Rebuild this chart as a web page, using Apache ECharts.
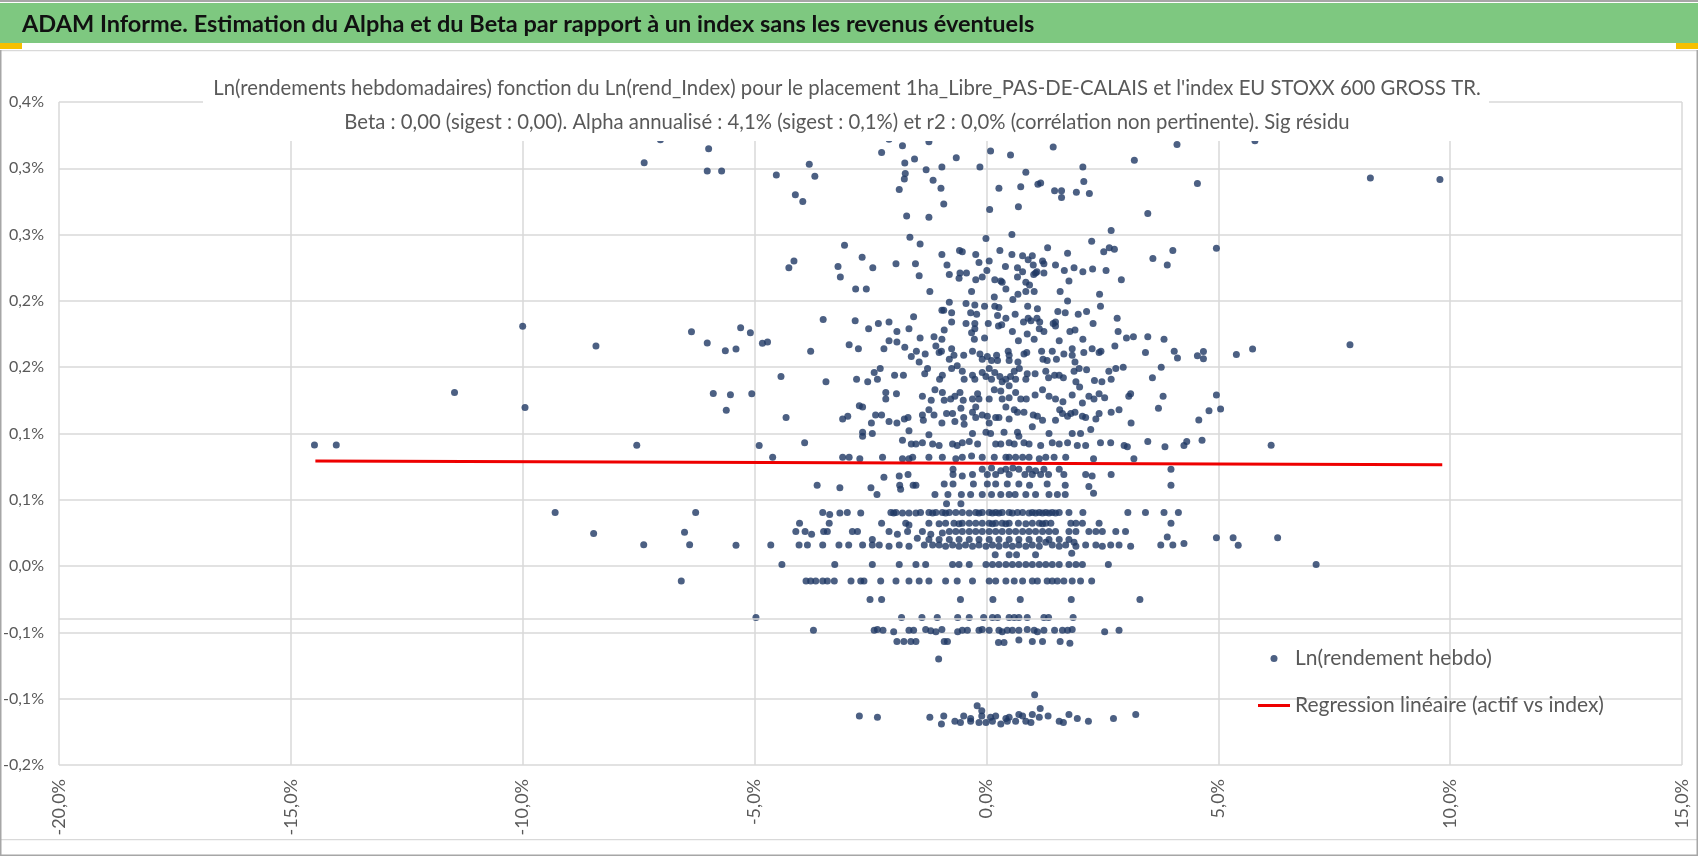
<!DOCTYPE html>
<html><head><meta charset="utf-8">
<script src="https://cdn.jsdelivr.net/npm/echarts@6/dist/echarts.min.js"></script>
<style>html,body{margin:0;padding:0;background:#fff}#c{width:1698px;height:856px}</style>
</head><body><div id="c"></div>
<script>
const headerText = 'ADAM Informe. Estimation du Alpha et du Beta par rapport à un index sans les revenus éventuels';
const titleLines = [
  "Ln(rendements hebdomadaires) fonction du Ln(rend_Index) pour le placement 1ha_Libre_PAS-DE-CALAIS et l'index EU STOXX 600 GROSS TR.",
  "Beta : 0,00 (sigest : 0,00). Alpha annualisé : 4,1% (sigest : 0,1%) et r2 : 0,0% (corrélation non pertinente). Sig résidu"
];
const seriesNames = ['Ln(rendement hebdo)', 'Regression linéaire (actif vs index)'];
const xScale = {min: -20, max: 15, interval: 5};
const yScale = {min: -0.15, max: 0.35, interval: 0.05};
const horizontalAxisCross = -0.0385;
const regressionLine = [[-14.47, 0.0792], [9.83, 0.0764]];

// index weekly log-return (%), asset weekly log-return (%)
const ptsLeft = [
  [-14.49,0.0913],[-14.02,0.0913],[-7.54,0.0912],
  [-7.03,0.3215],[-5.99,0.3147],[-7.38,0.3042],[-6.02,0.2979],[-5.71,0.2979],[-10.0,0.1808],[-8.42,0.1659],
  [-6.36,0.1767],[-6.02,0.1682],[-5.63,0.1624],[-5.40,0.1638],[-5.30,0.1797],[-11.47,0.1310],[-9.95,0.1197],
  [-5.89,0.1302],[-5.52,0.1292],[-5.61,0.1176],
  [-9.30,0.0405],[-8.47,0.0246],[-7.39,0.0161],[-6.27,0.0405],[-6.51,0.0256],[-6.40,0.0161],[-5.40,0.0158],[-6.58,-0.0113]
];
const ptsRight = [
  [5.79,0.3208],[4.55,0.2886],[8.28,0.2926],[9.78,0.2916],[4.96,0.2398],[4.55,0.1586],[4.68,0.1619],[4.68,0.1564],
  [5.39,0.1596],[5.74,0.1638],[7.84,0.1669],[4.96,0.1290],[4.80,0.1171],[5.05,0.1184],[4.58,0.1101],[4.65,0.0950],
  [6.14,0.0912],[4.96,0.0214],[5.32,0.0214],[5.43,0.0158],[6.28,0.0214],[7.11,0.0013]
];
const ptsUpper = [
  [-2.10,0.322],[-1.81,0.317],[-1.24,0.320],[-2.26,0.312],[0.09,0.313],[0.52,0.310],[1.44,0.316],[4.11,0.318],
  [-3.82,0.303],[-4.53,0.295],[-3.70,0.294],[-1.76,0.304],[-1.55,0.307],[-0.65,0.308],[-0.96,0.301],[-1.30,0.299],
  [-0.14,0.301],[-1.75,0.296],[-1.77,0.292],[-1.15,0.291],[-1.88,0.284],[-0.98,0.285],[-4.12,0.280],[-3.96,0.275],
  [-0.92,0.273],[-1.72,0.264],[-1.24,0.263],[0.85,0.297],[2.08,0.301],[3.19,0.306],[0.27,0.285],[0.74,0.286],
  [1.11,0.288],[1.17,0.289],[1.47,0.283],[1.62,0.283],[1.62,0.278],[1.94,0.282],[2.10,0.290],[2.22,0.281],
  [0.07,0.269],[0.69,0.271],[3.48,0.266],[-1.65,0.248],[-1.43,0.243],[-0.01,0.247],[0.55,0.250],[2.69,0.253],
  [-3.06,0.242],[2.27,0.245],[1.32,0.240],[2.53,0.237],[2.65,0.240],[2.76,0.239],[4.02,0.238],[3.59,0.232],
  [3.90,0.227],[-4.26,0.225],[-4.15,0.230],[-3.20,0.226],[-3.15,0.218],[-2.68,0.233],[-2.45,0.225],[-1.95,0.228],
  [-1.53,0.228],[-1.45,0.219],[-0.96,0.235],[-0.85,0.227],[-0.80,0.220],[-0.58,0.238],[-0.52,0.237],[-0.57,0.221],
  [-0.59,0.217],[-0.43,0.221],[-0.23,0.235],[-0.16,0.229],[0.06,0.230],[0.01,0.223],[-0.23,0.216],[-0.09,0.218],
  [0.29,0.238],[0.41,0.226],[0.55,0.235],[0.67,0.225],[0.78,0.222],[0.67,0.218],[0.78,0.234],[0.90,0.231],
  [0.99,0.234],[1.01,0.227],[1.06,0.221],[1.02,0.220],[1.09,0.222],[1.21,0.230],[1.24,0.228],[1.24,0.221],
  [1.49,0.227],[1.68,0.223],[1.75,0.236],[1.89,0.225],[2.08,0.222],[2.29,0.224],[2.58,0.223],[1.78,0.215],
  [2.91,0.216],[0.18,0.216],[0.31,0.215],[0.34,0.214],[0.85,0.214],[0.93,0.212]
];
const ptsCore = [
  [-2.82,0.209],[-2.59,0.209],[-1.22,0.207],[-0.32,0.207],[0.17,0.203],[0.42,0.209],[0.57,0.201],[0.68,0.205],
  [0.85,0.207],[1.03,0.207],[1.59,0.207],[2.44,0.205],
  [-0.80,0.199],[-0.44,0.198],[-0.25,0.197],[-0.04,0.196],[0.18,0.196],[0.27,0.195],[0.89,0.196],[1.10,0.194],
  [1.75,0.200],[2.46,0.196],[-0.96,0.193],[-0.92,0.193],
  [-0.75,0.191],[-0.34,0.191],[-0.21,0.190],[0.24,0.189],[0.62,0.190],[0.80,0.184],[0.96,0.185],[1.15,0.184],
  [1.49,0.184],[1.54,0.192],[1.70,0.191],[1.98,0.190],[2.16,0.192],[2.30,0.183],[2.82,0.187],[-1.57,0.188],
  [-3.52,0.186],[-2.83,0.185],[-2.33,0.183],[-2.10,0.184],[-0.75,0.184],[-0.44,0.183],[-0.25,0.183],[0.04,0.183],
  [0.42,0.187],[0.90,0.187],[1.09,0.187],[1.44,0.183],[1.49,0.181],
  [-2.54,0.179],[-1.93,0.177],[-1.67,0.179],[-0.91,0.178],[-0.32,0.176],[-0.25,0.179],[-0.26,0.171],[-0.04,0.172],
  [0.26,0.181],[0.56,0.177],[0.33,0.182],[0.88,0.175],[1.03,0.171],[1.24,0.177],[1.14,0.179],[1.80,0.177],
  [1.91,0.178],[2.84,0.177],[3.02,0.172],[3.17,0.173],[3.48,0.173],[3.83,0.171],[-5.09,0.176],[-4.83,0.168],
  [-4.72,0.169],[-2.10,0.170],[-1.93,0.169],[-1.43,0.172],[-1.13,0.173],[-0.96,0.171],[0.69,0.170],[1.57,0.170],
  [2.08,0.171],[2.77,0.166],
  [-3.79,0.162],[-2.96,0.167],[-2.76,0.164],[-2.21,0.164],[-1.76,0.165],[-1.62,0.158],[-1.51,0.162],[-1.32,0.160],
  [-1.45,0.154],[-1.09,0.166],[-0.97,0.162],[-0.75,0.164],[-1.02,0.161],[-0.80,0.156],[-0.70,0.159],[-0.49,0.159],
  [-0.30,0.162],[-0.14,0.160],[-0.09,0.156],[0.02,0.158],[0.11,0.155],[0.22,0.159],[0.24,0.155],[0.47,0.162],
  [0.49,0.159],[0.49,0.155],[0.68,0.154],[0.81,0.160],[0.87,0.161],[1.19,0.162],[1.22,0.156],[1.31,0.155],
  [1.42,0.162],[1.51,0.156],[1.67,0.160],[1.85,0.164],[1.91,0.154],[1.85,0.159],[2.10,0.161],[2.28,0.164],
  [2.43,0.161],[2.47,0.162],[3.43,0.161],[4.05,0.162],[4.12,0.157],
  [-4.43,0.143],[-3.46,0.139],[-2.80,0.141],[-2.56,0.139],[-2.42,0.146],[-2.35,0.141],[-2.29,0.149],[-1.98,0.144],
  [-1.79,0.144],[-1.33,0.145],[-1.27,0.149],[-1.01,0.141],[-0.95,0.144],[-0.75,0.149],[-0.63,0.151],[-0.48,0.141],
  [-0.52,0.147],[-0.30,0.144],[-0.25,0.141],[-0.09,0.146],[-0.01,0.143],[0.06,0.149],[0.11,0.141],[0.18,0.146],
  [0.29,0.143],[0.34,0.139],[0.42,0.141],[0.52,0.143],[0.60,0.147],[0.63,0.141],[0.71,0.149],[0.85,0.141],
  [1.05,0.145],[1.28,0.147],[1.34,0.142],[1.47,0.144],[1.57,0.144],[1.66,0.142],[1.89,0.147],[2.00,0.149],
  [2.16,0.148],[2.33,0.140],[2.49,0.139],[2.64,0.147],[2.69,0.141],[2.79,0.149],[2.95,0.150],[3.58,0.142],
  [3.77,0.150],[1.93,0.139],[0.49,0.136],[0.88,0.145],
  [-5.06,0.130],[-2.17,0.131],[-2.17,0.126],[-1.94,0.130],[-1.38,0.128],[-1.19,0.125],[-1.11,0.133],[-0.95,0.131],
  [-0.91,0.125],[-0.77,0.126],[-0.68,0.128],[-0.57,0.131],[-0.50,0.125],[-0.30,0.126],[-0.19,0.130],[-0.16,0.126],
  [0.06,0.126],[0.17,0.133],[0.31,0.132],[0.34,0.126],[0.49,0.127],[0.63,0.131],[0.74,0.126],[0.86,0.126],
  [1.05,0.129],[1.21,0.133],[1.35,0.128],[1.49,0.126],[1.65,0.124],[1.85,0.129],[2.01,0.135],[2.07,0.123],
  [2.21,0.128],[2.32,0.126],[2.43,0.130],[2.55,0.127],[3.07,0.128],[3.11,0.130],[3.81,0.128],[3.71,0.119],
  [-4.32,0.112],[-3.10,0.111],[-2.99,0.113],[-2.74,0.121],[-2.67,0.120],[-2.39,0.114],[-2.26,0.114],[-2.48,0.108],
  [-2.10,0.109],[-1.93,0.108],[-1.77,0.111],[-1.69,0.112],[-1.38,0.114],[-1.36,0.110],[-1.24,0.118],[-1.13,0.114],
  [-0.96,0.108],[-0.86,0.115],[-0.73,0.115],[-0.68,0.109],[-0.55,0.119],[-0.49,0.112],[-0.48,0.107],[-0.30,0.116],
  [-0.23,0.120],[-0.23,0.112],[-0.09,0.114],[0.02,0.113],[0.06,0.108],[0.20,0.112],[0.27,0.112],[0.42,0.120],
  [0.49,0.111],[0.60,0.118],[0.67,0.116],[0.81,0.116],[1.01,0.114],[1.10,0.113],[1.21,0.110],[1.49,0.110],
  [1.58,0.118],[1.64,0.115],[1.75,0.113],[1.82,0.115],[1.91,0.116],[2.07,0.113],[2.14,0.112],[2.36,0.111],
  [2.43,0.115],[2.69,0.116],[2.86,0.118],[3.12,0.108],
  [-4.90,0.091],[-3.92,0.093],[-2.67,0.101],[-2.67,0.098],[-2.46,0.100],[-1.81,0.095],[-1.67,0.102],[-1.62,0.092],
  [-1.52,0.092],[-1.38,0.093],[-1.24,0.099],[-1.16,0.092],[-1.02,0.091],[-0.73,0.092],[-0.63,0.091],[-0.52,0.093],
  [-0.37,0.094],[-0.30,0.100],[-0.19,0.092],[-0.01,0.101],[0.09,0.100],[0.20,0.092],[0.31,0.092],[0.38,0.101],
  [0.49,0.093],[0.60,0.092],[0.67,0.101],[0.70,0.098],[0.81,0.093],[0.92,0.092],[0.99,0.105],[1.17,0.091],
  [1.35,0.100],[1.42,0.093],[1.57,0.092],[1.75,0.093],[1.85,0.100],[1.96,0.091],[2.03,0.100],[2.14,0.091],
  [2.25,0.103],[2.46,0.093],[2.68,0.093],[2.97,0.091],[3.04,0.090],[3.48,0.094],[3.85,0.090],[4.26,0.091],[4.32,0.094],
  [-4.61,0.082],[-3.10,0.082],[-2.96,0.082],[-2.73,0.081],[-2.24,0.082],[-1.81,0.081],[-1.67,0.081],[-1.59,0.082],
  [-1.24,0.082],[-0.95,0.082],[-0.66,0.081],[-0.52,0.082],[-0.32,0.083],[-0.09,0.082],[0.17,0.082],[0.42,0.082],
  [0.49,0.082],[0.63,0.082],[0.78,0.082],[0.92,0.082],[1.14,0.081],[1.28,0.082],[1.46,0.082],[1.71,0.082],
  [2.31,0.081],[3.18,0.081]
];
const ptsBands = [
  [-0.72,0.073],[-0.72,0.069],[-0.52,0.068],[-0.30,0.069],[-0.09,0.073],[0.02,0.069],[0.11,0.074],[0.20,0.069],
  [0.31,0.072],[0.42,0.073],[0.49,0.069],[0.57,0.074],[0.70,0.073],[0.83,0.069],[0.92,0.073],[0.99,0.069],
  [1.06,0.072],[1.17,0.069],[1.24,0.073],[1.34,0.069],[1.57,0.073],[1.67,0.069],[2.14,0.069],[2.28,0.068],
  [2.69,0.069],[3.98,0.073],[-1.88,0.068],[-1.69,0.069],[-2.21,0.067],
  [-3.65,0.061],[-3.16,0.059],[-2.49,0.059],[-2.36,0.054],[-1.87,0.061],[-1.85,0.058],[-1.58,0.061],[-1.52,0.061],
  [-1.11,0.054],[-0.91,0.062],[-0.72,0.062],[-0.83,0.054],[-0.54,0.054],[-0.34,0.054],[-0.28,0.062],[-0.09,0.054],
  [0.02,0.062],[0.11,0.054],[0.20,0.062],[0.31,0.054],[0.49,0.054],[0.45,0.062],[0.62,0.054],[0.70,0.062],
  [0.85,0.054],[0.93,0.061],[1.06,0.054],[1.31,0.062],[1.35,0.054],[1.53,0.054],[1.70,0.054],[1.70,0.061],
  [2.21,0.060],[2.31,0.055],[3.98,0.061],
  [-0.86,0.047],[-0.55,0.047],
  [-3.53,0.0405],[-3.38,0.039],[-3.16,0.040],[-3.00,0.0405],[-2.71,0.040],[-2.06,0.0405],[-1.95,0.0405],[-1.81,0.040],
  [-1.67,0.040],[-1.42,0.0405],[-1.24,0.0405],[-1.09,0.0405],[-0.95,0.0405],[-0.80,0.0405],[-0.66,0.0405],[-0.52,0.0405],
  [-0.23,0.0405],[-0.09,0.0405],[0.06,0.0405],[0.20,0.0405],[0.34,0.0405],[0.49,0.0405],[0.67,0.0405],[0.78,0.0405],
  [0.99,0.0405],[1.14,0.0405],[1.28,0.0405],[1.42,0.0405],[1.57,0.0405],[1.78,0.0405],[2.08,0.0405],[3.05,0.0405],
  [3.43,0.0405],[3.83,0.0405],[4.14,0.0405],[-2.00,0.040],[-1.52,0.040],[-1.16,0.040],[-0.88,0.040],[-0.37,0.040],
  [-0.16,0.040],[0.13,0.040],[0.27,0.040],[0.56,0.040],[0.92,0.040],[1.06,0.040],[1.21,0.040],[1.35,0.040],[1.49,0.040],
  [-4.03,0.0324],[-3.39,0.0324],[-2.26,0.0324],[-1.74,0.0324],[-1.67,0.031],[-1.24,0.0324],[-0.88,0.0324],[-0.70,0.0324],
  [-0.52,0.0324],[-0.37,0.0324],[-0.23,0.0324],[-0.09,0.0324],[0.06,0.0324],[0.20,0.0324],[0.34,0.0324],[0.49,0.0324],
  [0.69,0.0324],[0.99,0.0324],[1.14,0.0324],[1.28,0.0324],[1.39,0.0324],[1.82,0.0324],[1.93,0.0324],[2.07,0.0324],
  [2.43,0.0324],[3.98,0.0324],[-1.02,0.032],[-0.59,0.032],[0.13,0.032],[0.42,0.032],[0.85,0.032],[1.21,0.032],
  [-4.11,0.026],[-3.91,0.026],[-3.77,0.024],[-3.51,0.026],[-3.43,0.026],[-2.89,0.026],[-2.78,0.026],[-2.10,0.026],
  [-1.92,0.024],[-1.70,0.026],[-1.38,0.026],[-1.20,0.024],[-0.95,0.025],[-0.80,0.026],[-0.66,0.026],[-0.52,0.026],
  [-0.37,0.026],[-0.23,0.026],[-0.09,0.026],[0.06,0.026],[0.20,0.026],[0.34,0.026],[0.49,0.026],[0.63,0.026],
  [0.78,0.026],[0.92,0.026],[1.06,0.026],[1.21,0.026],[1.35,0.026],[1.49,0.026],[1.78,0.026],[1.93,0.026],
  [2.21,0.026],[2.36,0.026],[2.50,0.026],[2.79,0.026],[3.00,0.026],[3.90,0.022],
  [-1.24,0.020],[-1.02,0.020],[-0.80,0.020],[-0.59,0.020],[-0.37,0.020],[-0.16,0.020],[0.06,0.020],[0.27,0.020],
  [0.49,0.020],[0.70,0.020],[0.92,0.020],[1.14,0.020],[1.35,0.020],[1.57,0.020],[1.78,0.020],
  [-4.65,0.016],[-4.04,0.016],[-3.86,0.016],[-3.53,0.016],[-3.18,0.016],[-2.97,0.016],[-2.67,0.016],[-2.46,0.016],
  [-2.31,0.016],[-2.10,0.015],[-1.88,0.016],[-1.67,0.015],[-1.34,0.016],[-1.16,0.016],[-1.02,0.016],[-0.88,0.015],
  [-0.73,0.016],[-0.59,0.015],[-0.45,0.016],[-0.30,0.015],[-0.16,0.016],[-0.01,0.015],[0.13,0.016],[0.27,0.015],
  [0.42,0.016],[0.56,0.015],[0.70,0.016],[0.85,0.015],[0.99,0.016],[1.14,0.015],[1.42,0.016],[1.57,0.015],
  [1.71,0.016],[1.93,0.015],[2.14,0.016],[2.36,0.016],[2.50,0.015],[2.68,0.016],[2.86,0.016],[3.11,0.015],
  [3.76,0.016],[4.02,0.016],[4.26,0.017],[-2.46,0.020],[-1.49,0.021],[1.28,0.018],[1.89,0.018],
  [0.19,0.0085],[0.49,0.0085],[0.65,0.0085],[1.06,0.0085],[1.84,0.0096],
  [-4.41,0.0013],[-3.27,0.0013],[-2.46,0.0013],[-1.88,0.0013],[-1.52,0.0013],[-1.31,0.0013],[-0.73,0.0013],[-0.59,0.0013],
  [-0.37,0.0013],[-0.01,0.0013],[0.13,0.0013],[0.27,0.0013],[0.42,0.0013],[0.56,0.0013],[0.70,0.0013],[0.85,0.0013],
  [0.99,0.0013],[1.14,0.0013],[1.28,0.0013],[1.42,0.0013],[1.57,0.0013],[1.78,0.0013],[1.93,0.0013],[2.07,0.0013],[2.63,0.0013],
  [-3.89,-0.0113],[-3.79,-0.0113],[-3.68,-0.0113],[-3.53,-0.0113],[-3.43,-0.0113],[-3.28,-0.0113],[-2.92,-0.0113],
  [-2.71,-0.0113],[-2.64,-0.0113],[-2.28,-0.0113],[-1.95,-0.0113],[-1.67,-0.0113],[-1.45,-0.0113],[-1.24,-0.0113],
  [-0.88,-0.0113],[-0.63,-0.0113],[-0.30,-0.0113],[0.06,-0.0113],[0.20,-0.0113],[0.42,-0.0113],[0.60,-0.0113],
  [0.78,-0.0113],[0.99,-0.0113],[1.10,-0.0113],[1.31,-0.0113],[1.42,-0.0113],[1.53,-0.0113],[1.67,-0.0113],
  [1.85,-0.0113],[2.03,-0.0113],[2.27,-0.0113],
  [-2.51,-0.0251],[-2.26,-0.0251],[-0.56,-0.0251],[0.14,-0.0251],[0.73,-0.0251],[1.83,-0.0251],[3.31,-0.0251]
];
const ptsLow = [
  [-4.97,-0.0387],[-1.83,-0.0387],[-1.39,-0.0387],[-1.06,-0.0387],[-0.62,-0.0387],[-0.37,-0.0387],[-0.06,-0.0387],
  [0.13,-0.0387],[0.24,-0.0387],[0.49,-0.0387],[0.60,-0.0387],[0.70,-0.0387],[0.88,-0.0387],[1.24,-0.0387],
  [1.34,-0.0387],[1.87,-0.0387],
  [-3.73,-0.0483],[-2.42,-0.0483],[-2.35,-0.0478],[-2.23,-0.0483],[-2.00,-0.0495],[-1.67,-0.0483],[-1.57,-0.0483],
  [-1.31,-0.0478],[-1.20,-0.0488],[-1.09,-0.0495],[-0.96,-0.0478],[-0.62,-0.0495],[-0.52,-0.0483],[-0.41,-0.0483],
  [-0.16,-0.0483],[-0.09,-0.0478],[0.06,-0.0483],[0.27,-0.0483],[0.34,-0.0495],[0.45,-0.0483],[0.56,-0.0483],
  [0.70,-0.0483],[0.88,-0.0478],[1.03,-0.0483],[1.10,-0.0495],[1.24,-0.0483],[1.47,-0.0483],[1.64,-0.0483],
  [1.75,-0.0483],[1.85,-0.0478],[2.55,-0.0495],[2.86,-0.0483],
  [-1.93,-0.0568],[-1.78,-0.0568],[-1.63,-0.0568],[-1.52,-0.0568],[-0.91,-0.0568],[-0.84,-0.0568],[0.26,-0.0576],
  [0.38,-0.0576],[0.70,-0.0558],[0.99,-0.0568],[1.21,-0.0568],[1.59,-0.0568],[1.80,-0.0581],
  [-1.03,-0.0701],[1.04,-0.0970],[-0.20,-0.1053],[1.16,-0.1073],
  [-2.74,-0.113],[-2.35,-0.114],[-1.22,-0.114],[-0.92,-0.113],[-0.49,-0.113],[-0.34,-0.115],[-0.10,-0.109],
  [-0.10,-0.113],[0.09,-0.114],[0.20,-0.113],[0.42,-0.115],[0.49,-0.114],[0.70,-0.112],[0.78,-0.113],[0.99,-0.112],
  [1.14,-0.114],[1.33,-0.113],[1.78,-0.112],[1.96,-0.115],[2.74,-0.115],[3.22,-0.112],
  [-0.97,-0.119],[-0.68,-0.117],[-0.56,-0.118],[-0.34,-0.117],[-0.16,-0.118],[-0.01,-0.118],[0.13,-0.117],
  [0.31,-0.119],[0.45,-0.117],[0.63,-0.117],[0.85,-0.117],[0.96,-0.118],[1.57,-0.117],[1.66,-0.118],[2.20,-0.117]
];
const scatterData = [].concat(ptsLeft, ptsRight, ptsUpper, ptsCore, ptsBands, ptsLow);

const FONT = 'Lato';
const gray = '#595959';
function fmtPct(v) {
  const r = Math.sign(v) * Math.round(Math.abs(v) * 10 + 1e-6) / 10;
  return r.toFixed(1).replace('.', ',') + '%';
}
const chart = echarts.init(document.getElementById('c'), null, {renderer: 'canvas'});
chart.setOption({
  animation: false,
  backgroundColor: '#ffffff',
  grid: {left: 56, right: 16, top: 102, bottom: 91, containLabel: false},
  xAxis: {
    type: 'value', min: xScale.min, max: xScale.max, interval: xScale.interval,
    axisLine: {show: false}, axisTick: {show: false},
    splitLine: {lineStyle: {color: '#d9d9d9', width: 1.5}},
    axisLabel: {rotate: 90, margin: 14, color: gray, fontFamily: FONT, fontSize: 18,
      formatter: v => v.toFixed(1).replace('.', ',') + '%'}
  },
  yAxis: {
    type: 'value', min: yScale.min, max: yScale.max, interval: yScale.interval,
    axisLine: {show: false}, axisTick: {show: false},
    splitLine: {lineStyle: {color: '#d9d9d9', width: 1.5}},
    axisLabel: {margin: 15, color: gray, fontFamily: FONT, fontSize: 16, formatter: fmtPct}
  },
  legend: {
    orient: 'vertical', left: 1253, top: 643, itemWidth: 32, itemHeight: 7, itemGap: 26,
    textStyle: {fontFamily: FONT, fontSize: 21, color: gray},
    data: [
      {name: seriesNames[0], icon: 'circle'},
      {name: seriesNames[1], icon: 'path://M0,0h32v3h-32z'}
    ]
  },
  series: [
    {
      name: seriesNames[0], type: 'scatter', data: scatterData, symbolSize: 7,
      itemStyle: {color: '#1f3864'}, z: 2,
      markLine: {silent: true, symbol: 'none', label: {show: false},
        lineStyle: {color: '#d9d9d9', width: 1.5, type: 'solid'},
        data: [{yAxis: horizontalAxisCross}]}
    },
    {
      name: seriesNames[1], type: 'line', data: regressionLine, symbol: 'none', showSymbol: false,
      lineStyle: {color: '#ee0000', width: 3}, itemStyle: {color: '#ee0000'}, z: 3
    }
  ],
  graphic: [
    {type: 'rect', z: 100, shape: {x: 0, y: 0, width: 1698, height: 2}, style: {fill: '#a6a6a6'}},
    {type: 'rect', z: 100, shape: {x: 0, y: 3, width: 1698, height: 40}, style: {fill: '#7ec880'}},
    {type: 'rect', z: 100, shape: {x: 0, y: 43, width: 22, height: 6}, style: {fill: '#f5c000'}},
    {type: 'rect', z: 100, shape: {x: 1676, y: 43, width: 22, height: 6}, style: {fill: '#f5c000'}},
    {type: 'text', z: 101, style: {text: headerText, x: 22, y: 24, fill: '#111111',
      font: 'bold 23.5px ' + FONT, textAlign: 'left', textVerticalAlign: 'middle'}},
    {type: 'rect', z: 99, shape: {x: 0, y: 50, width: 1698, height: 1.2}, style: {fill: '#d9d9d9'}},
    {type: 'rect', z: 99, shape: {x: 0, y: 839, width: 1698, height: 1.2}, style: {fill: '#d9d9d9'}},
    {type: 'rect', z: 99, shape: {x: 0, y: 854.5, width: 1698, height: 1.5}, style: {fill: '#a6a6a6'}},
    {type: 'rect', z: 99, shape: {x: 0, y: 50, width: 1.5, height: 806}, style: {fill: '#a6a6a6'}},
    {type: 'rect', z: 99, shape: {x: 1696.5, y: 50, width: 1.5, height: 806}, style: {fill: '#a6a6a6'}},
    {type: 'rect', z: 100, shape: {x: 203, y: 60, width: 1286, height: 81}, style: {fill: '#ffffff'}},
    {type: 'text', z: 101, style: {text: titleLines[0], x: 847, y: 88, fill: gray,
      font: 'normal 20.3px ' + FONT, textAlign: 'center', textVerticalAlign: 'middle'}},
    {type: 'text', z: 101, style: {text: titleLines[1], x: 847, y: 122, fill: gray,
      font: 'normal 20.3px ' + FONT, textAlign: 'center', textVerticalAlign: 'middle'}}
  ]
});
</script>
</body></html>
